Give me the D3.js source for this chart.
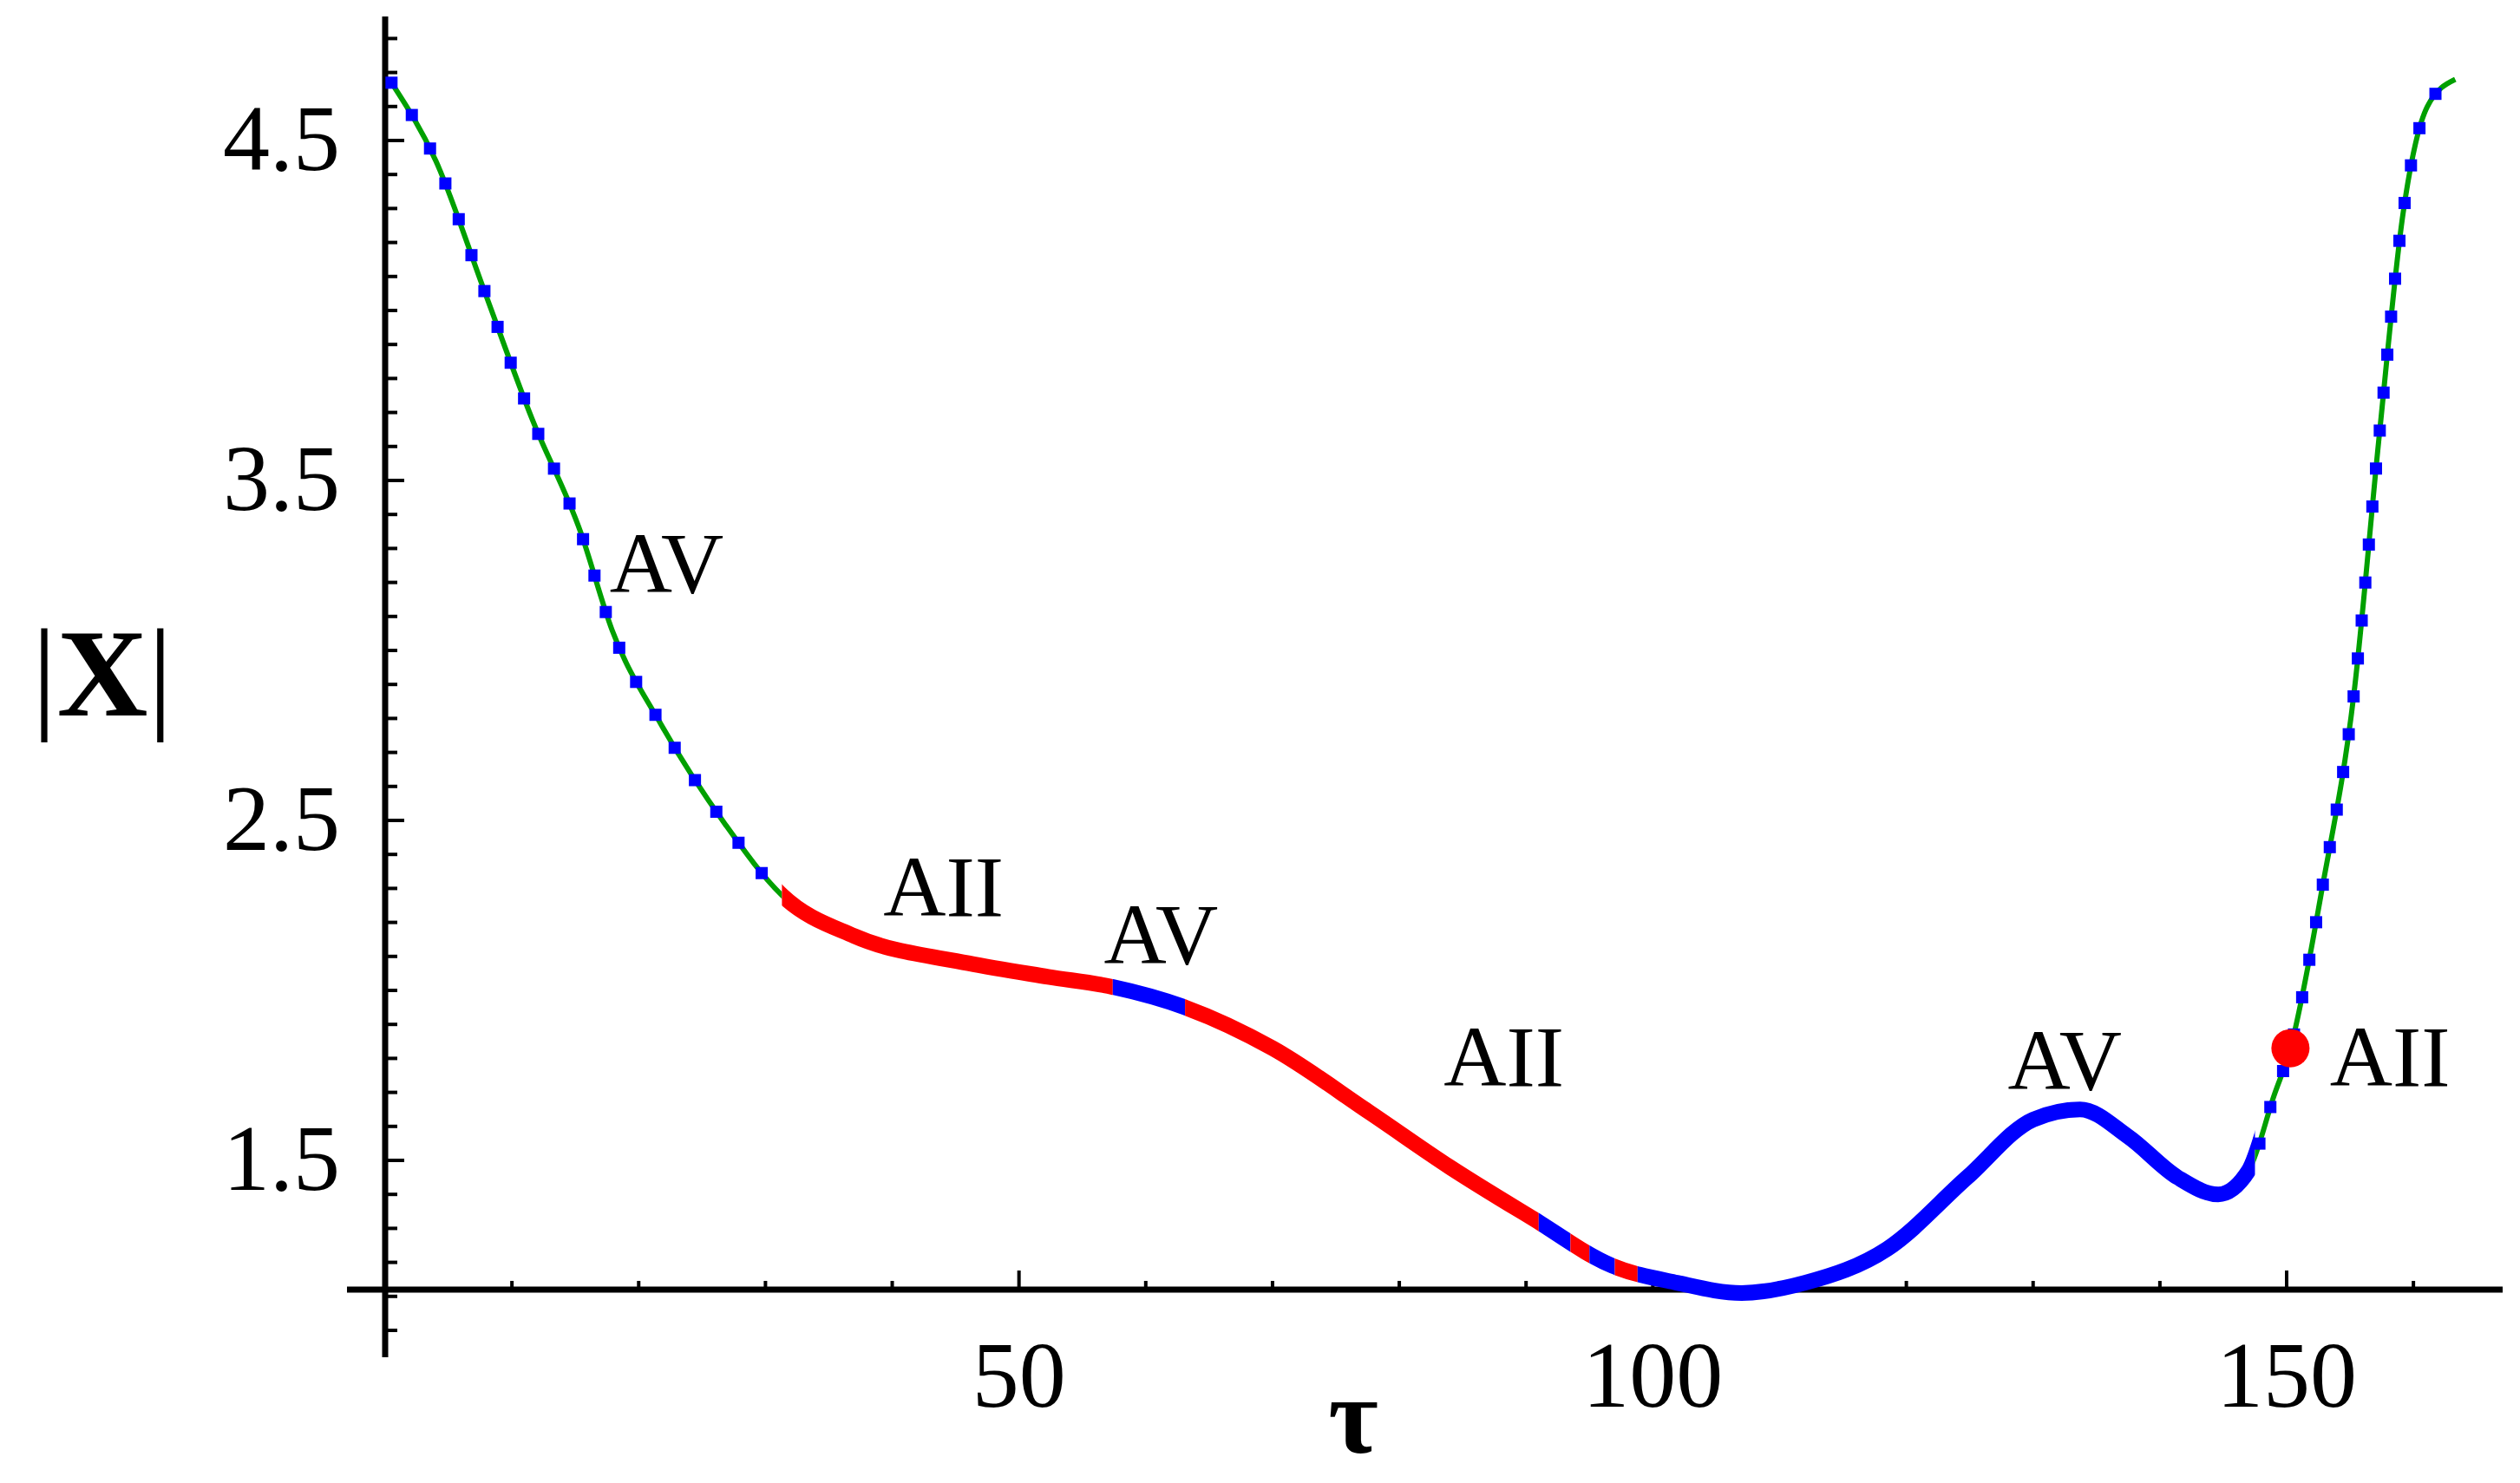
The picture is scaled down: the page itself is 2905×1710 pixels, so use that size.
<!DOCTYPE html>
<html><head><meta charset="utf-8">
<script src="https://cdn.jsdelivr.net/npm/d3@7"></script>
<style>body{margin:0;background:#fff}</style></head>
<body><svg id="c" width="2905" height="1710"></svg>
<script>
const tau = [0.5,4,7.8,11.6,15.4,17.9,21.8,26.8,31.3,37,46,52.3,57.4,63.1,70,77.7,84,90.5,96.8,101.9,107,112,118.5,124.8,130,133.7,137.5,141.4,144.6,147,149,150.3,152.8,155.3,157.3,159.2,161.1,163.3];
const absX = [4.67,4.44,4.06,3.68,3.35,3.06,2.78,2.49,2.28,2.16,2.08,2.04,2.01,1.95,1.83,1.64,1.48,1.33,1.19,1.14,1.11,1.14,1.24,1.45,1.62,1.65,1.57,1.45,1.40,1.47,1.69,1.83,2.30,2.87,3.63,4.29,4.60,4.68];
const yTicks = [1.5,2.5,3.5,4.5];
const xTicks = [50,100,150];
const segments = [ // [from, to, kind]
  [0,31.3,"green"],[31.3,57.4,"red"],[57.4,63.1,"blue"],[63.1,91,"red"],
  [91,93.5,"blue"],[93.5,95,"red"],[95,97,"blue"],[97,98.8,"red"],[98.8,147.5,"blue"],[147.5,164,"green"]];
const labels = [["AV",17.7,3.17],["AII",39.3,2.22],["AV",56.7,2.08],["AII",83.5,1.72],["AV",128,1.71],["AII",153.4,1.72]];
const special = [150.3,1.83];

const svg = d3.select("#c");
const x = d3.scaleLinear().domain([0,150]).range([444,2636]);
const y = d3.scaleLinear().domain([1.5,4.5]).range([1338,162]);
const data = tau.map((t,i)=>[t,absX[i]]);
const line = d3.line().x(d=>x(d[0])).y(d=>y(d[1])).curve(d3.curveMonotoneX);
const font = "Liberation Serif, Times New Roman, serif";

const axY = 1.12;
svg.append("line").attr("x1",400).attr("x2",2885).attr("y1",y(axY)).attr("y2",y(axY)).attr("stroke","#000").attr("stroke-width",7);
svg.append("line").attr("x1",x(0)).attr("x2",x(0)).attr("y1",19).attr("y2",1565).attr("stroke","#000").attr("stroke-width",7);
d3.range(1.0,4.85,0.1).forEach(v=>{
  const major = Math.abs((v*10)%10-5)<0.01;
  svg.append("line").attr("x1",x(0)).attr("x2",x(0)+(major?22:14)).attr("y1",y(v)).attr("y2",y(v)).attr("stroke","#000").attr("stroke-width",4);
});
d3.range(10,170,10).forEach(v=>{
  const major = v%50===0;
  svg.append("line").attr("x1",x(v)).attr("x2",x(v)).attr("y1",y(axY)).attr("y2",y(axY)-(major?22:10)).attr("stroke","#000").attr("stroke-width",4);
});
yTicks.forEach(v=>svg.append("text").attr("x",392).attr("y",y(v)+34).attr("text-anchor","end").attr("font-family",font).attr("font-size",108).text(v.toFixed(1)));
xTicks.forEach(v=>svg.append("text").attr("x",x(v)).attr("y",1622).attr("text-anchor","middle").attr("font-family",font).attr("font-size",108).text(v));
const yl = svg.append("text").attr("x",118).attr("y",825).attr("text-anchor","middle").attr("font-family",font).attr("font-size",145);
yl.append("tspan").text("|");yl.append("tspan").attr("font-weight","bold").text("X");yl.append("tspan").text("|");
svg.append("text").attr("x",1560).attr("y",1675).attr("text-anchor","middle").attr("font-family",font).attr("font-weight","bold").attr("font-size",125).text("τ");

const defs = svg.append("defs");
segments.forEach((s,i)=>{
  defs.append("clipPath").attr("id","cp"+i).append("rect").attr("x",x(s[0])).attr("width",x(s[1])-x(s[0])).attr("y",0).attr("height",1710);
});
const colors = {green:"#00a000",red:"#ff0000",blue:"#0000ff"};
const base = svg.append("path").attr("d",line(data)).attr("fill","none").attr("stroke","none");
segments.forEach((s,i)=>{
  svg.append("path").attr("d",line(data)).attr("clip-path","url(#cp"+i+")").attr("fill","none")
    .attr("stroke",colors[s[2]]).attr("stroke-width",s[2]==="green"?6:18);
});
const node = base.node(), L = node.getTotalLength();
for(let l=0;l<L;l+=44){
  const p = node.getPointAtLength(l);
  const t = x.invert(p.x);
  const g = segments.find(s=>t>=s[0]&&t<s[1]);
  if(g && g[2]==="green") svg.append("rect").attr("x",p.x-7).attr("y",p.y-7).attr("width",14).attr("height",14).attr("fill","#0000ff");
}
svg.append("circle").attr("cx",x(special[0])).attr("cy",y(special[1])).attr("r",22).attr("fill","#ff0000");
labels.forEach(l=>svg.append("text").attr("x",x(l[1])).attr("y",y(l[2])).attr("text-anchor","start").attr("font-family",font).attr("font-size",100).text(l[0]));
</script></body></html>
